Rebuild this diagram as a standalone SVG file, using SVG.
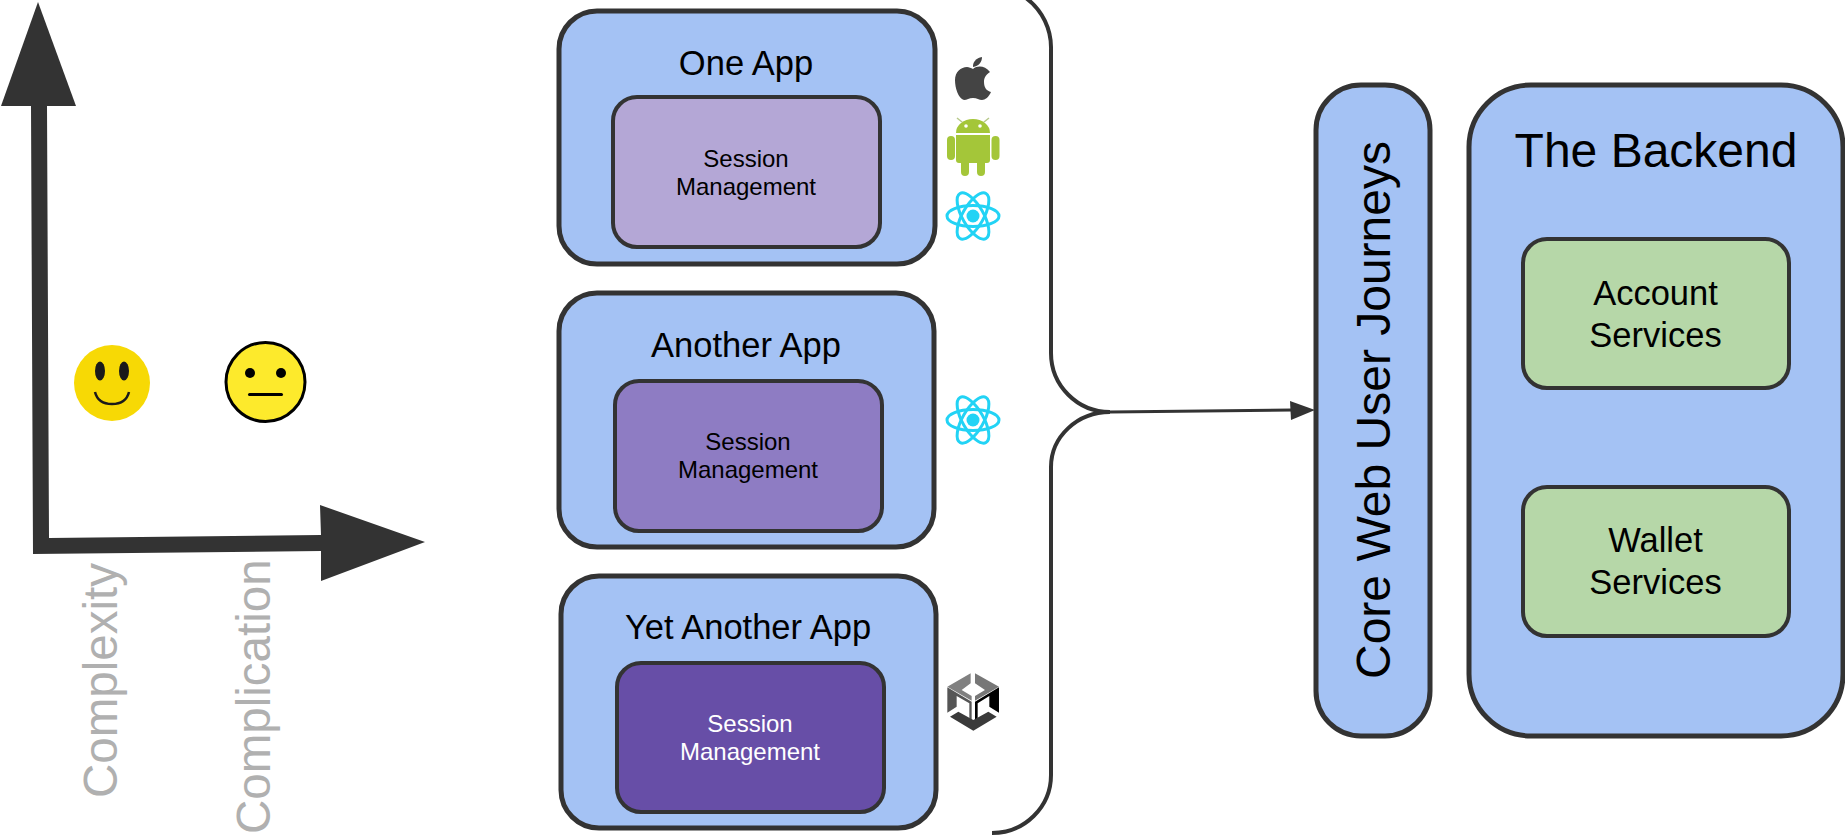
<svg xmlns="http://www.w3.org/2000/svg" width="1845" height="835" viewBox="0 0 1845 835">
<style>
text{font-family:"Liberation Sans",Arial,sans-serif;fill:#000;text-anchor:middle}
.box{fill:#a4c2f4;stroke:#333;stroke-width:5}
.in{stroke:#333;stroke-width:4}
.t34{font-size:34.500px}.t24{font-size:24px}.t48{font-size:48px}
.axis{fill:#333;stroke:none}
.lab{fill:#b0b0b0;font-size:47.500px;text-anchor:start}
.bracket{fill:none;stroke:#333;stroke-width:4}
.react{fill:none;stroke:#22d3f5;stroke-width:3}
.droid{fill:#a4c639}
</style>
<defs>
<g id="reactIcon"><circle r="6.500" fill="#22d3f5" stroke="none"/><ellipse class="react" rx="26" ry="10.500"/><ellipse class="react" rx="26" ry="10.500" transform="rotate(60)"/><ellipse class="react" rx="26" ry="10.500" transform="rotate(120)"/></g>
</defs>
<g id="connectors">
<polygon class="axis" points="31,106 47,106 49,538 321,535 320,505 425,542 321,581 321,551 33,554"/>
<polygon class="axis" points="38,2 76,106 1,106"/>
<path class="bracket" d="M1026,-2 A62,62 0 0 1 1051,50 L1051,353 A59,59 0 0 0 1110,412 A59,55 0 0 0 1051,467 L1051,775 A59,58 0 0 1 992,833"/>
<path d="M1110,412 L1292,410" fill="none" stroke="#333" stroke-width="3"/>
<polygon class="axis" points="1290,401 1315,410 1291,420"/>
</g>
<g id="one-app">
<rect class="box" x="559" y="11" width="376" height="253" rx="38"/>
<text class="t34" x="746" y="75">One App</text>
<rect class="in" x="613" y="97" width="267" height="150" rx="24" fill="#b4a7d6"/>
<text class="t24" x="746" y="167">Session</text><text class="t24" x="746" y="195">Management</text>
</g>
<g id="another-app">
<rect class="box" x="559" y="293" width="375" height="254" rx="38"/>
<text class="t34" x="746" y="357">Another App</text>
<rect class="in" x="615" y="381" width="267" height="150" rx="24" fill="#8e7cc3"/>
<text class="t24" x="748" y="450">Session</text><text class="t24" x="748" y="478">Management</text>
</g>
<g id="yet-another-app">
<rect class="box" x="561" y="576" width="375" height="252" rx="38"/>
<text class="t34" x="748" y="639">Yet Another App</text>
<rect class="in" x="617" y="663" width="267" height="149" rx="24" fill="#674ea7"/>
<text class="t24" x="750" y="732" style="fill:#fff">Session</text><text class="t24" x="750" y="760" style="fill:#fff">Management</text>
</g>
<g id="core-web">
<rect class="box" x="1316" y="85" width="114" height="651" rx="45"/>
<text class="t48" transform="translate(1390,410) rotate(-90)">Core Web User Journeys</text>
</g>
<g id="backend">
<rect class="box" x="1469" y="85" width="374" height="651" rx="62"/>
<text class="t48" x="1656" y="167">The Backend</text>
</g>
<g id="account-services">
<rect class="in" x="1523" y="239" width="266" height="149" rx="24" fill="#b6d7a8"/>
<text class="t34" x="1655.500" y="305">Account</text><text class="t34" x="1655.500" y="347">Services</text>
</g>
<g id="wallet-services">
<rect class="in" x="1523" y="487" width="266" height="149" rx="24" fill="#b6d7a8"/>
<text class="t34" x="1655.500" y="552">Wallet</text><text class="t34" x="1655.500" y="594">Services</text>
</g>
<g id="smile">
<circle cx="112" cy="383" r="38" fill="#f7d905"/>
<ellipse cx="100" cy="371" rx="5" ry="9.500" fill="#1a1a1a"/><ellipse cx="124" cy="371" rx="5" ry="9.500" fill="#1a1a1a"/>
<path d="M95,392 Q98,404 112,404 Q126,404 129,392" fill="none" stroke="#1a1a1a" stroke-width="2.500"/>
</g>
<g id="neutral">
<circle cx="265.500" cy="382" r="39.500" fill="#fdea2c" stroke="#000" stroke-width="3"/>
<circle cx="250" cy="373" r="5" fill="#000"/><circle cx="281" cy="373" r="5" fill="#000"/>
<rect x="248" y="393" width="35" height="3" rx="1.500" fill="#000"/>
</g>
<text class="lab" transform="translate(117,798) rotate(-90)">Complexity</text>
<text class="lab" transform="translate(270,834) rotate(-90)">Complication</text>
<g id="apple-icon">
<path fill="#444" d="M973,69 C978,65 985,66 990,72 C985,75 984,79 984,82 C984,88 987,91 991,92 C989,97 985,100 982,100 C979,100 977,98 973,98 C969,98 967,100 964,100 C958,98 955,88 955,80 C955,72 961,67 967,67 C969,67 971,68 973,69Z"/>
<path fill="#444" d="M973,66 C973,62 976,58 982,57 C982,62 979,66 973,67Z"/>
</g>
<g id="android-icon">
<path class="droid" d="M956,133 A17,14 0 0 1 990,133Z"/>
<path d="M962,122 L957,118 M984,122 L989,118" stroke="#b7c98a" stroke-width="1.500"/>
<circle cx="966" cy="126" r="1.800" fill="#fff"/><circle cx="980" cy="126" r="1.800" fill="#fff"/>
<path class="droid" d="M956,135 H990 V160 Q990,163 987,163 H985 V172 A4,4 0 0 1 977,172 V163 H969 V172 A4,4 0 0 1 961,172 V163 H959 Q956,163 956,160Z"/>
<rect class="droid" x="947" y="136" width="8" height="24" rx="4"/>
<rect class="droid" x="991.500" y="136" width="8" height="24" rx="4"/>
</g>
<use id="react-icon-1" href="#reactIcon" x="973" y="216"/>
<use id="react-icon-2" href="#reactIcon" x="973" y="420"/>
<g id="unity-icon" transform="translate(930,660) scale(.3333)">
<polygon fill="#808080" points="52,80 122,40 122,70 95,90 125,108 125,122"/>
<polygon fill="#777" points="207,80 135,40 135,70 165,90 135,108 135,122"/>
<polygon fill="#555" points="52,82 125,125 125,180 118,175 118,130 80,108 80,140 52,158"/>
<polygon fill="#000" points="207,82 135,125 135,180 143,175 143,130 178,108 178,140 207,158"/>
<polygon fill="#3a3a3a" points="60,170 85,155 130,180 175,155 200,170 130,212"/>
</g>
</svg>
